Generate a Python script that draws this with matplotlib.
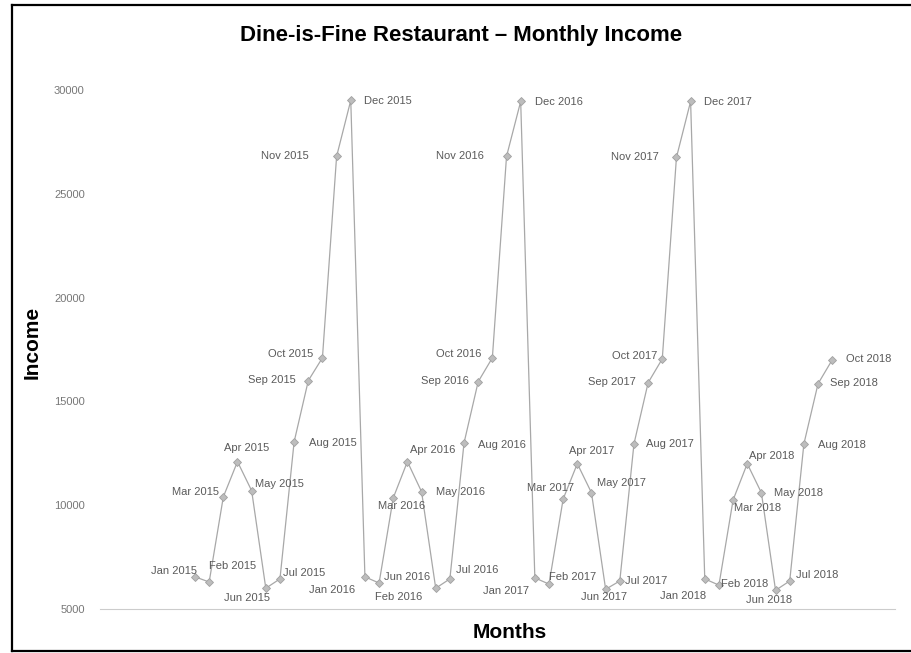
import matplotlib
matplotlib.use("Agg")
import matplotlib.pyplot as plt
from matplotlib.lines import Line2D

months = ["Jan", "Feb", "Mar", "Apr", "May", "Jun", "Jul", "Aug", "Sep", "Oct", "Nov", "Dec"]
labels = [f"{m} {y}" for y in (2015, 2016, 2017, 2018) for m in months][:46]

income = [
    6550, 6300, 10400, 12100, 10700, 6000, 6450, 13050, 16000, 17100, 26800, 29500,
    6550, 6250, 10350, 12100, 10650, 6000, 6450, 13000, 15950, 17100, 26800, 29450,
    6500, 6200, 10300, 12000, 10600, 5950, 6350, 12950, 15900, 17050, 26750, 29450,
    6450, 6150, 10250, 12000, 10600, 5900, 6350, 12950, 15850, 17000,
]

yticks = [5000, 10000, 15000, 20000, 25000, 30000]

# label offsets (pixels: dx right, dy down) for each data label
offsets = [
    (-21, -6), (23, -16), (-28, -5), (9, -14), (28, -7), (-19, 10), (24, -6), (39, 1),
    (-36, -1), (-32, -4), (-52, 0), (37, 1),
    (-33, 13), (20, 14), (8, 8), (25, -12), (39, 0), (-29, -11), (27, -9), (38, 2),
    (-33, -1), (-34, -4), (-47, 0), (38, 1),
    (-29, 13), (24, -7), (-13, -11), (14, -13), (30, -10), (-2, 8), (26, 0), (36, 0),
    (-36, -1), (-28, -3), (-42, 0), (37, 1),
    (-22, 17), (26, -1), (24, 8), (24, -8), (37, 0), (-6, 10), (27, -6), (38, 1),
    (36, -1), (36, -1),
]

W, H = 912, 653
fig = plt.figure(figsize=(W / 100, H / 100), dpi=100)
fig.patch.set_facecolor("white")

ax_l, ax_r, ax_b, ax_t = 100, 895, 609, 90
ax = fig.add_axes([ax_l / W, 1 - ax_b / H, (ax_r - ax_l) / W, (ax_b - ax_t) / H])

x = list(range(len(income)))
ax.plot(x, income, color="#a8a8a8", lw=0.9, marker="D", markersize=4.5,
        markerfacecolor="#bdbdbd", markeredgecolor="#a0a0a0", markeredgewidth=0.6,
        clip_on=False, zorder=3)

for xi, yi, lab, (dx, dy) in zip(x, income, labels, offsets):
    ax.annotate(lab, (xi, yi), xytext=(dx, -dy), textcoords="offset pixels",
                ha="center", va="center", fontsize=8, color="#5a5a5a",
                family="Liberation Sans", annotation_clip=False, zorder=4)

ax.set_ylim(5000, 30000)
ax.set_xlim((ax_l - 195) / 14.16, (ax_r - 195) / 14.16)
ax.set_yticks(yticks)
ax.set_yticklabels([str(v) for v in yticks], fontsize=8, color="#777777", family="Liberation Sans")
ax.set_xticks([])
ax.tick_params(axis="y", length=0, pad=11)
for s in ("top", "right", "left"):
    ax.spines[s].set_visible(False)
ax.spines["bottom"].set_color("#cccccc")
ax.spines["bottom"].set_linewidth(0.8)

fig.text(461 / W, 1 - 35 / H, "Dine-is-Fine Restaurant \u2013 Monthly Income",
         ha="center", va="center", fontsize=16, fontweight="bold", family="Liberation Sans")
fig.text(32 / W, 1 - 342 / H, "Income", rotation=90, ha="center", va="center",
         fontsize=15, fontweight="bold", family="Liberation Sans")
fig.text(510 / W, 1 - 632 / H, "Months", ha="center", va="center",
         fontsize=15, fontweight="bold", family="Liberation Sans")

# scanned page border
def fx(px):
    return px / W
def fy(py):
    return 1 - py / H
fig.add_artist(Line2D([fx(12), fx(912)], [fy(5), fy(5)], color="black", lw=1.6))
fig.add_artist(Line2D([fx(12), fx(12)], [fy(5), fy(651)], color="black", lw=1.6))
fig.add_artist(Line2D([fx(12), fx(912)], [fy(651), fy(651)], color="black", lw=1.6))

fig.savefig("out.png", dpi=100)
